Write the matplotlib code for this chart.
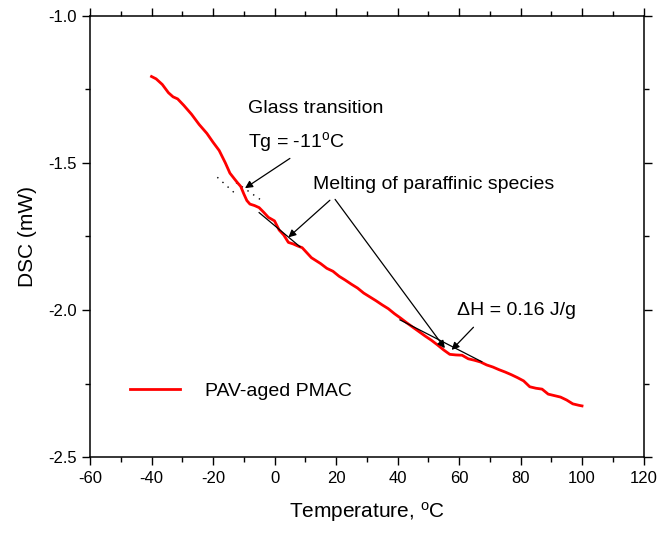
import matplotlib
matplotlib.use("Agg")
import matplotlib.pyplot as plt
from matplotlib.ticker import MultipleLocator

plt.rcParams["font.family"] = ["Liberation Sans", "DejaVu Sans"]
plt.rcParams["mathtext.fontset"] = "custom"
plt.rcParams["mathtext.rm"] = "Liberation Sans"
plt.rcParams["mathtext.it"] = "Liberation Sans"
plt.rcParams["axes.unicode_minus"] = False

# DSC trace of PAV-aged PMAC
temperature = [-40, -38.5, -36.5, -34.5, -33, -31.5, -29.5, -27, -24.5, -22, -20, -18,
               -16, -14.5, -13, -12, -11, -10, -9, -8, -6.5, -5, -3.5, -2, 0, 1.5, 3,
               4.5, 6, 7.5, 9, 10.5, 12, 13.5, 15, 17, 19, 21, 23, 25, 27, 29, 31, 33,
               35, 37, 39, 41, 43, 45, 47, 49, 51, 53, 55, 57, 59, 61, 63, 65, 67, 69,
               71, 73, 75, 77, 79, 81, 83, 85, 87, 89, 91, 93, 95, 97, 99, 100]
dsc = [-1.207, -1.215, -1.234, -1.262, -1.276, -1.283, -1.305, -1.335, -1.370, -1.400,
       -1.430, -1.458, -1.500, -1.535, -1.555, -1.568, -1.580, -1.605, -1.628, -1.640,
       -1.645, -1.652, -1.668, -1.685, -1.697, -1.728, -1.745, -1.770, -1.775, -1.782,
       -1.788, -1.805, -1.822, -1.832, -1.842, -1.858, -1.868, -1.885, -1.898, -1.912,
       -1.925, -1.942, -1.955, -1.968, -1.982, -1.995, -2.012, -2.027, -2.043, -2.058,
       -2.073, -2.088, -2.102, -2.118, -2.135, -2.150, -2.152, -2.153, -2.165, -2.170,
       -2.176, -2.186, -2.193, -2.202, -2.210, -2.219, -2.229, -2.240, -2.260, -2.265,
       -2.268, -2.285, -2.290, -2.295, -2.305, -2.318, -2.323, -2.325]

# construction lines (T, DSC endpoints)
tg_tangent_a = ([-18.6, -12.3], [-1.549, -1.609])
tg_tangent_b = ([-12.5, -4.7], [-1.567, -1.624])
melt_baseline_1 = ([-5.0, 8.3], [-1.669, -1.785])
melt_baseline_2 = ([40.8, 67.4], [-2.033, -2.175])

x_ticks = [-60, -40, -20, 0, 20, 40, 60, 80, 100, 120]
y_ticks = [-2.5, -2.0, -1.5, -1.0]

fig = plt.figure(figsize=(6.58, 5.35), dpi=100)
ax = fig.add_axes([0.1368, 0.1449, 0.8412, 0.8261])

ax.plot(temperature, dsc, color="#ff0000", lw=2.0, label="PAV-aged PMAC", zorder=3)

ax.plot(*tg_tangent_a, color="black", lw=1.0, ls=(0, (1, 4)))
ax.plot(*tg_tangent_b, color="black", lw=1.0, ls=(0, (1, 4)))
ax.plot(*melt_baseline_1, color="black", lw=0.9, zorder=4)
ax.plot(*melt_baseline_2, color="black", lw=0.9, zorder=4)

arrow = dict(arrowstyle="-|>", color="black", lw=0.9, mutation_scale=11,
             shrinkA=0, shrinkB=0)
ax.annotate("", xy=(-9.6, -1.586), xytext=(5.0, -1.485), arrowprops=arrow)
ax.annotate("", xy=(4.5, -1.753), xytext=(18.0, -1.627), arrowprops=arrow)
ax.annotate("", xy=(55.4, -2.129), xytext=(19.7, -1.624), arrowprops=arrow)
ax.annotate("", xy=(57.6, -2.135), xytext=(64.7, -2.058), arrowprops=arrow)

fs = 14
ax.text(-8.6, -1.314, "Glass transition", fontsize=fs, va="center", ha="left")
ax.text(-8.6, -1.43, r"Tg = -11$^{\rm o}$C", fontsize=fs, va="center", ha="left")
ax.text(12.5, -1.575, "Melting of paraffinic species", fontsize=fs, va="center", ha="left")
ax.text(59.2, -2.0, "\u0394H = 0.16 J/g", fontsize=fs, va="center", ha="left")

ax.set_xlim(-60, 120)
ax.set_ylim(-2.5, -1.0)
ax.set_xticks(x_ticks)
ax.set_yticks(y_ticks)
ax.set_yticklabels([f"{v:.1f}" for v in y_ticks])
ax.xaxis.set_minor_locator(MultipleLocator(10))
ax.yaxis.set_minor_locator(MultipleLocator(0.25))

ax.tick_params(which="both", direction="out", top=True, right=True, labelsize=12,
               width=1.0)
ax.tick_params(which="major", length=6)
ax.tick_params(which="minor", length=3.5)
for s in ax.spines.values():
    s.set_linewidth(1.1)

ax.set_xlabel(r"Temperature, $^{\rm o}$C", fontsize=15, labelpad=10)
ax.set_ylabel("DSC (mW)", fontsize=15, labelpad=8)

ax.legend(loc="lower left", bbox_to_anchor=(0.04, 0.09), frameon=False, fontsize=fs,
          handlelength=2.6, handletextpad=1.3)

fig.savefig("out.png", dpi=100)
